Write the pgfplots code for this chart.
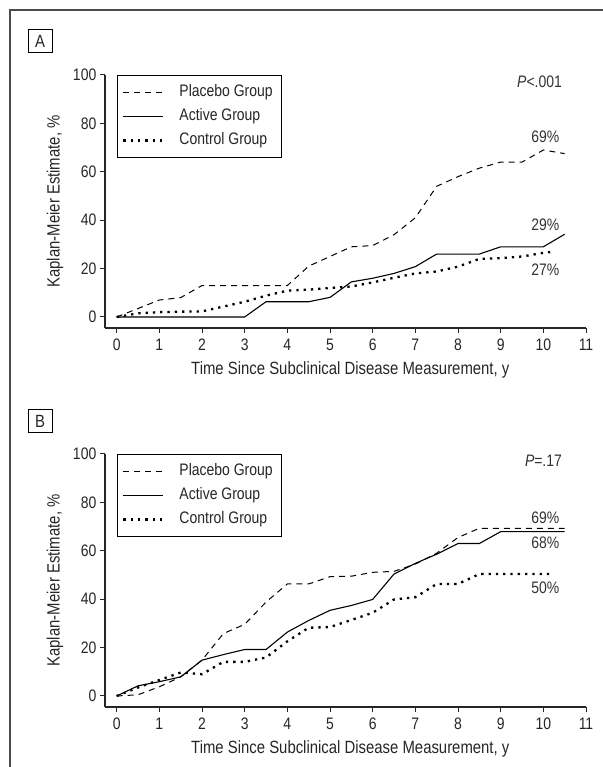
\documentclass[border=0pt]{standalone}
\usepackage{fontspec}
\setmainfont{Liberation Sans}[FakeStretch=0.84]
\usepackage{pgfplots}
\usepackage{pgfplotstable}
\pgfplotsset{compat=1.18}

\pgfplotstableread{
t   placebo active
0    0     0
0.5  3.5   0
1    7     0
1.5  8     0
2    13    0
2.5  13    0
3    13    0
3.5  13    6.3
4    13    6.3
4.5  21    6.3
5    25    8.1
5.5  29    14.5
6    29.5  16
6.5  34    18
7    41    20.8
7.5  54    26
8    58    26
8.5  61.5  26
9    64    29
9.5  64    29
10   69    29
10.5 67.5  34.2
}\tabA
\pgfplotstableread{
t   control
0    0
0.5  1.5
1    2
1.5  2.2
2    2.3
2.5  4.3
3    6.3
3.5  8.8
4    10.9
4.5  11.3
5    12
5.5  12.6
6    14.3
6.5  16.2
7    18
7.5  18.8
8    20.8
8.5  24
9    24.3
9.5  25
10   26.5
10.25 27
}\tabAc
\pgfplotstableread{
t   placebo active
0    0     0
0.5  0.5   4.2
1    3.8   5.9
1.5  7.9   7.9
2    14.8  14.8
2.5  25.8  17.1
3    29.6  19.2
3.5  38.8  19.2
4    46.3  26.4
4.5  46.3  31.2
5    49.3  35.4
5.5  49.5  37.4
6    51.1  39.9
6.5  51.5  50.4
7    54.5  54.8
7.5  59    58.6
8    65.5  63
8.5  69.3  63
9    69.3  67.9
9.5  69.3  67.9
10   69.3  67.9
10.5 69.3  67.9
}\tabB
\pgfplotstableread{
t   control
0    0
0.5  3.5
1    6.6
1.5  9.7
2    9.0
2.5  14.1
3    14.1
3.5  15.9
4    22.6
4.5  28.2
5    28.5
5.5  31.4
6    34.4
6.5  39.9
7    40.8
7.5  46.3
8    46.3
8.5  50.4
9    50.4
9.5  50.4
10   50.4
10.25 50.4
}\tabBc

\newcommand{\fs}{\fontsize{16.7}{19}\selectfont}
\newcommand{\fl}{\fontsize{17.8}{21}\selectfont}

\tikzset{pct/.style={anchor=east, inner sep=0pt, font=\fs, text=black!80}}

\pgfplotsset{
  km/.style={
    scale only axis, width=481bp, height=253bp,
    xmin=-0.274, xmax=11, ymin=-4.55, ymax=100,
    axis x line*=bottom, axis y line*=left,
    axis line style={line width=1.1bp, color=black!85},
    every tick/.style={line width=1bp, color=black!85},
    tick align=outside, major tick length=5bp,
    xtick={0,1,...,11}, ytick={0,20,...,100},
    /pgf/number format/assume math mode=true,
    ticklabel style={font=\fs, text=black!85, inner sep=3.5bp},
    xticklabel style={yshift=-2bp},
    every axis x label/.style={at={(axis description cs:0.51,-0.166)}, anchor=center, font=\fl, text=black!85},
    every axis y label/.style={at={(axis description cs:-0.104,0.5)}, rotate=90, anchor=center, font=\fl, text=black!85},
    xlabel={Time Since Subclinical Disease Measurement, y},
    ylabel={Kaplan-Meier Estimate, \%},
    clip=false,
    legend style={at={(axis cs:0,100)}, anchor=north west, draw=black, line width=1bp,
      inner xsep=5bp, inner ysep=5bp, font=\fs, text=black!85, column sep=11bp,
      nodes={text height=11.5bp, text depth=3bp, inner ysep=4.75bp, inner xsep=4bp}},
    legend cell align=left,
    legend image code/.code={\draw[#1] (0bp,0bp) -- (40bp,0bp);},
  },
  pl/.style={black, line width=1bp, dash pattern=on 6bp off 5bp},
  ac/.style={black, line width=1.1bp},
  co/.style={black, line width=2.3bp, dash pattern=on 2.3bp off 5bp},
}

\begin{document}
\begin{tikzpicture}[x=1bp,y=1bp]
\draw[line width=1.4bp, black!70] (10,0) -- (10,757) -- (603,757);
\draw[line width=1bp] (28,714) rectangle (52,737);
\node[font=\fl, text=black!85] at (40,725.5) {A};
\draw[line width=1bp] (28,334) rectangle (52,357);
\node[font=\fl, text=black!85] at (40,345.5) {B};

\begin{axis}[km, at={(105bp,439bp)}, anchor=south west]
\addplot[pl] table[x=t, y=placebo] {\tabA};
\addlegendentry{Placebo Group}
\addplot[ac] table[x=t, y=active] {\tabA};
\addlegendentry{Active Group}
\addplot[co] table[x=t, y=control] {\tabAc};
\addlegendentry{Control Group}
\node[pct] at (axis cs:10.44,97) {\itshape P\upshape<.001};
\node[pct] at (axis cs:10.38,74.5) {69\%};
\node[pct] at (axis cs:10.38,38.3) {29\%};
\node[pct] at (axis cs:10.38,19.4) {27\%};
\end{axis}

\begin{axis}[km, at={(105bp,60bp)}, anchor=south west]
\addplot[pl] table[x=t, y=placebo] {\tabB};
\addlegendentry{Placebo Group}
\addplot[ac] table[x=t, y=active] {\tabB};
\addlegendentry{Active Group}
\addplot[co] table[x=t, y=control] {\tabBc};
\addlegendentry{Control Group}
\node[pct] at (axis cs:10.44,97) {\itshape P\upshape=.17};
\node[pct] at (axis cs:10.38,73.7) {69\%};
\node[pct] at (axis cs:10.38,63.4) {68\%};
\node[pct] at (axis cs:10.38,44.9) {50\%};
\end{axis}
\pgfresetboundingbox
\path (0,0) rectangle (603,767);
\end{tikzpicture}
\end{document}
